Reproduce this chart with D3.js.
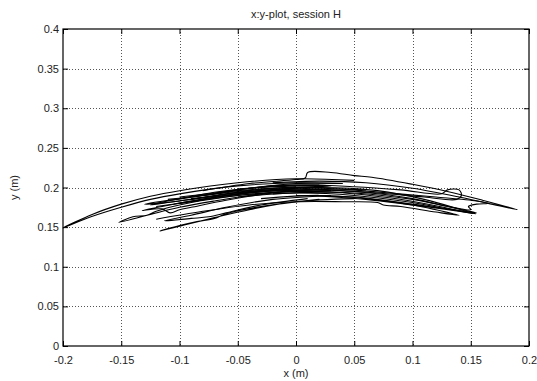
<!DOCTYPE html>
<html>
<head>
<meta charset="utf-8">
<script src="https://cdn.jsdelivr.net/npm/d3@7"></script>
<style>
  html, body { margin: 0; padding: 0; background: #fff; }
  svg { display: block; }
  text { font-family: "Liberation Sans", Arial, sans-serif; fill: #222; }
</style>
</head>
<body>
<svg id="chart" width="537" height="381"></svg>
<script>
// ---- data (x, y in metres) ----
const xTicks = [-0.2, -0.15, -0.1, -0.05, 0, 0.05, 0.1, 0.15, 0.2];
const yTicks = [0, 0.05, 0.1, 0.15, 0.2, 0.25, 0.3, 0.35, 0.4];
const xTickLabels = ["-0.2", "-0.15", "-0.1", "-0.05", "0", "0.05", "0.1", "0.15", "0.2"];
const yTickLabels = ["0", "0.05", "0.1", "0.15", "0.2", "0.25", "0.3", "0.35", "0.4"];

const strokeL1 = [[0.05,0.209],[0,0.211],[-0.05,0.206],[-0.1,0.196],[-0.125,0.189],[-0.15,0.179],[-0.175,0.166],[-0.2,0.149],[-0.176,0.163],[-0.15,0.175],[-0.125,0.185],[-0.1,0.192],[-0.05,0.202],[0,0.206],[0.04,0.205]];
const strokeL2 = [[0.06,0.197],[0.02,0.198],[-0.03,0.192],[-0.07,0.183],[-0.1,0.175],[-0.125,0.166],[-0.152,0.156],[-0.14,0.163],[-0.128,0.165],[-0.12,0.17],[-0.1,0.178],[-0.06,0.188],[-0.02,0.194],[0.03,0.196]];
const strokeL3 = [[0.05,0.186],[0,0.182],[-0.04,0.172],[-0.07,0.162],[-0.095,0.153],[-0.117,0.145],[-0.1,0.152],[-0.085,0.157],[-0.07,0.161],[-0.06,0.167],[-0.03,0.176],[0.02,0.185]];
const strokeL4 = [[0.03,0.19],[-0.02,0.185],[-0.06,0.175],[-0.09,0.165],[-0.113,0.158],[-0.09,0.161],[-0.075,0.163],[-0.06,0.168],[-0.03,0.178],[0.01,0.186]];
const strokeL5 = [[0,0.2],[-0.05,0.192],[-0.09,0.183],[-0.115,0.176],[-0.132,0.171],[-0.115,0.173],[-0.108,0.168],[-0.1,0.172],[-0.09,0.175],[-0.06,0.184],[-0.02,0.193],[0.02,0.198]];
const strokeL6 = [[0.04,0.205],[0,0.205],[-0.04,0.199],[-0.08,0.19],[-0.11,0.183],[-0.125,0.178],[-0.11,0.181],[-0.08,0.187],[-0.04,0.196],[0,0.201]];
const strokeL7 = [[0.02,0.203],[-0.03,0.2],[-0.07,0.194],[-0.1,0.186],[-0.13,0.179],[-0.1,0.183],[-0.06,0.192],[-0.02,0.197]];
const strokeD1 = [[-0.11,0.185],[-0.08,0.19],[-0.05,0.196],[-0.02,0.199],[0.02,0.2],[-0.02,0.196],[-0.06,0.19],[-0.09,0.186]];
const strokeD2 = [[-0.12,0.176],[-0.09,0.182],[-0.06,0.19],[-0.03,0.196],[0,0.199],[-0.04,0.193],[-0.08,0.185],[-0.105,0.179]];
const strokeD3 = [[-0.1,0.188],[-0.07,0.193],[-0.04,0.199],[-0.01,0.203],[0.03,0.202],[-0.01,0.2],[-0.05,0.195],[-0.085,0.189]];
const strokeR1 = [[-0.08,0.196],[-0.04,0.205],[0,0.21],[0.008,0.212],[0.01,0.219],[0.03,0.219],[0.05,0.215],[0.065,0.213],[0.1,0.204],[0.13,0.195],[0.16,0.184],[0.19,0.172],[0.165,0.18],[0.14,0.188],[0.1,0.199],[0.06,0.206],[0.02,0.208],[-0.02,0.206]];
const strokeR2 = [[-0.05,0.198],[0,0.203],[0.05,0.201],[0.09,0.197],[0.125,0.192],[0.13,0.197],[0.14,0.197],[0.142,0.19],[0.138,0.185],[0.11,0.188],[0.07,0.193],[0.02,0.197],[-0.03,0.195]];
const strokeR3 = [[-0.06,0.19],[0,0.198],[0.05,0.195],[0.1,0.186],[0.13,0.176],[0.155,0.168],[0.13,0.173],[0.1,0.181],[0.05,0.19],[0,0.193],[-0.05,0.188]];
const strokeR4 = [[-0.12,0.16],[-0.08,0.17],[-0.04,0.178],[0,0.182],[0.04,0.182],[0.07,0.181],[0.075,0.178],[0.09,0.176],[0.12,0.169],[0.14,0.165],[0.12,0.172],[0.1,0.178],[0.06,0.186],[0.02,0.19],[-0.03,0.186]];
const strokeR5 = [[-0.1,0.18],[-0.05,0.19],[0,0.195],[0.05,0.193],[0.1,0.185],[0.15,0.172],[0.148,0.176],[0.155,0.179],[0.165,0.18],[0.155,0.183],[0.12,0.188],[0.08,0.193],[0.04,0.198],[0,0.2]];
const strokeR6 = [[-0.09,0.185],[-0.04,0.195],[0.02,0.2],[0.07,0.196],[0.11,0.185],[0.152,0.167],[0.12,0.177],[0.08,0.187],[0.03,0.194],[-0.02,0.192]];
const strokeR7 = [[0,0.19],[0.05,0.188],[0.1,0.179],[0.154,0.167],[0.11,0.176],[0.06,0.185],[0.01,0.19]];
const strokes = [strokeL1, strokeL2, strokeL3, strokeL4, strokeL5, strokeL6, strokeL7, strokeD1, strokeD2, strokeD3,
                 strokeR1, strokeR2, strokeR3, strokeR4, strokeR5, strokeR6, strokeR7];

// ---- layout ----
const W = 537, H = 381;
const m = { left: 63, right: 8, top: 29, bottom: 35 };
const svg = d3.select("#chart");
const x = d3.scaleLinear().domain([-0.2, 0.2]).range([m.left, W - m.right]);
const y = d3.scaleLinear().domain([0, 0.4]).range([H - m.bottom, m.top]);
const x0 = x.range()[0], x1 = x.range()[1], y0 = y.range()[0], y1 = y.range()[1];

// grid
const grid = svg.append("g").attr("stroke", "#555").attr("stroke-dasharray", "1,2").attr("stroke-width", 1);
xTicks.slice(1, -1).forEach(t => grid.append("line")
  .attr("x1", Math.round(x(t)) + 0.5).attr("x2", Math.round(x(t)) + 0.5)
  .attr("y1", y1).attr("y2", y0));
yTicks.slice(1, -1).forEach(t => grid.append("line")
  .attr("y1", Math.round(y(t)) + 0.5).attr("y2", Math.round(y(t)) + 0.5)
  .attr("x1", x0).attr("x2", x1));

// data lines
const line = d3.line().x(d => x(d[0])).y(d => y(d[1])).curve(d3.curveCatmullRom.alpha(0.5));
svg.append("g").selectAll("path").data(strokes).join("path")
  .attr("d", line).attr("fill", "none").attr("stroke", "#000").attr("stroke-width", 1.1);

// axes (inward ticks, mirrored)
const fmtX = (d, i) => xTickLabels[i];
const fmtY = (d, i) => yTickLabels[i];
svg.append("g").attr("transform", `translate(0,${y0})`)
  .call(d3.axisBottom(x).tickValues(xTicks).tickFormat(fmtX).tickSizeInner(-5).tickSizeOuter(0).tickPadding(10))
  .call(g => { g.select(".domain").remove(); g.selectAll("text").attr("font-size", 11).attr("fill", "#222").attr("font-family", "Liberation Sans, Arial, sans-serif"); });
svg.append("g").attr("transform", `translate(0,${y1})`)
  .call(d3.axisTop(x).tickValues(xTicks).tickFormat("").tickSizeInner(-5).tickSizeOuter(0))
  .call(g => g.select(".domain").remove());
svg.append("g").attr("transform", `translate(${x0},0)`)
  .call(d3.axisLeft(y).tickValues(yTicks).tickFormat(fmtY).tickSizeInner(-5).tickSizeOuter(0).tickPadding(4))
  .call(g => { g.select(".domain").remove(); g.selectAll("text").attr("font-size", 11).attr("fill", "#222").attr("font-family", "Liberation Sans, Arial, sans-serif"); });
svg.append("g").attr("transform", `translate(${x1},0)`)
  .call(d3.axisRight(y).tickValues(yTicks).tickFormat("").tickSizeInner(-5).tickSizeOuter(0))
  .call(g => g.select(".domain").remove());

// border
svg.append("rect").attr("x", x0).attr("y", y1).attr("width", x1 - x0).attr("height", y0 - y1)
  .attr("fill", "none").attr("stroke", "#000").attr("stroke-width", 1.2);

// labels
svg.append("text").attr("x", (x0 + x1) / 2).attr("y", 18).attr("text-anchor", "middle")
  .attr("font-size", 11).text("x:y-plot, session H");
svg.append("text").attr("x", (x0 + x1) / 2).attr("y", 377).attr("text-anchor", "middle")
  .attr("font-size", 11).text("x (m)");
svg.append("text").attr("transform", `translate(18,${(y0 + y1) / 2}) rotate(-90)`).attr("text-anchor", "middle")
  .attr("font-size", 11).text("y (m)");
</script>
</body>
</html>
